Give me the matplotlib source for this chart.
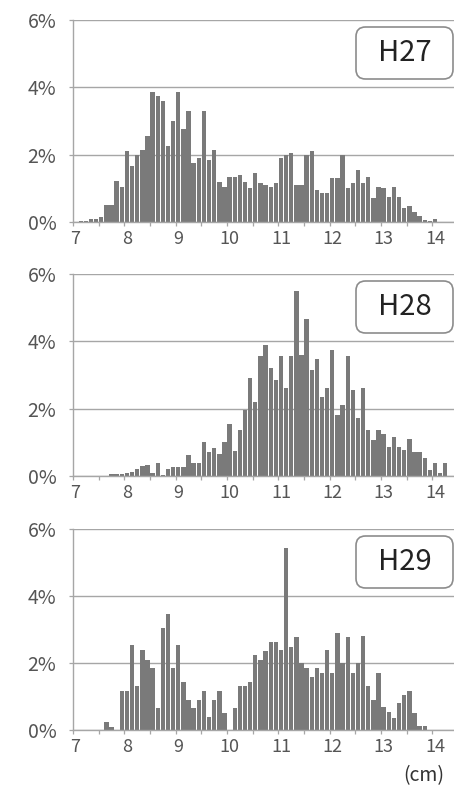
import matplotlib
matplotlib.use("Agg")
import matplotlib.pyplot as plt
import numpy as np
from matplotlib.patches import FancyBboxPatch

plt.rcParams["font.family"] = ["Noto Sans CJK JP", "DejaVu Sans"]

# 0.1 cm bins starting at 7.0 cm, share in %
start_cm = 7.0
bin_cm = 0.1
ticks_cm = [7, 8, 9, 10, 11, 12, 13, 14]
year_labels = ["H27", "H28", "H29"]

h27 = [0, 0.02, 0.02, 0.08, 0.08, 0.15, 0.5, 0.5, 1.22, 1.05,
       2.1, 1.65, 2.0, 2.15, 2.55, 3.85, 3.75, 3.6, 2.25, 3.0,
       3.85, 2.75, 3.3, 1.75, 1.9, 3.3, 1.85, 2.15, 1.2, 1.05,
       1.35, 1.35, 1.4, 1.2, 1.0, 1.45, 1.15, 1.1, 1.05, 1.15,
       1.9, 2.0, 2.05, 1.1, 1.1, 2.0, 2.1, 0.95, 0.85, 0.85,
       1.3, 1.3, 2.0, 1.0, 1.15, 1.55, 1.15, 1.35, 0.7, 1.05,
       1.0, 0.75, 1.05, 0.75, 0.43, 0.48, 0.3, 0.17, 0.05, 0.03,
       0.08]

h28 = [0, 0, 0, 0, 0, 0, 0, 0.05, 0.06, 0.06,
       0.08, 0.13, 0.22, 0.3, 0.33, 0.1, 0.4, 0.04, 0.2, 0.26,
       0.26, 0.26, 0.62, 0.4, 0.4, 1.0, 0.72, 0.82, 0.65, 1.0,
       1.55, 0.75, 1.37, 1.97, 2.9, 2.2, 3.55, 3.9, 3.2, 2.85,
       3.55, 2.6, 3.55, 5.5, 3.6, 4.65, 3.15, 3.47, 2.35, 2.6,
       3.73, 1.8, 2.1, 3.55, 2.55, 1.72, 2.6, 1.37, 1.07, 1.37,
       1.25, 0.87, 1.17, 0.85, 0.77, 1.1, 0.72, 0.72, 0.53, 0.18,
       0.4, 0.1, 0.4]

h29 = [0, 0, 0, 0, 0, 0, 0.25, 0.1, 0, 1.17,
       1.17, 2.53, 1.3, 2.38, 2.1, 1.84, 0.65, 3.05, 3.45, 1.84,
       2.53, 1.44, 0.9, 0.65, 0.9, 1.17, 0.38, 0.91, 1.17, 0.52,
       0, 0.65, 1.3, 1.3, 1.44, 2.23, 2.1, 2.36, 2.63, 2.63,
       2.38, 5.43, 2.48, 2.78, 1.99, 1.84, 1.59, 1.86, 1.71, 2.38,
       1.71, 2.9, 1.99, 2.78, 1.71, 1.99, 2.8, 1.31, 0.9, 1.71,
       0.68, 0.55, 0.35, 0.8, 1.04, 1.17, 0.52, 0.12, 0.12]

series = [h27, h28, h29]

W, H = 454, 787
fig = plt.figure(figsize=(W / 100, H / 100), dpi=100)

# panel pixel extents (top of 6% line, 0% line)
panels_px = [(20, 222), (274, 476), (529, 730)]
left_px, right_px = 73, 454

grid_c = "#a6a6a6"
bar_c = "#7a7a7a"
txt_c = "#555555"

for (top, bot), vals, label in zip(panels_px, series, year_labels):
    ax = fig.add_axes([left_px / W, 1 - bot / H, (right_px - left_px) / W, (bot - top) / H])
    x = start_cm + bin_cm * np.arange(len(vals))
    ax.bar(x, vals, width=0.085, color=bar_c, linewidth=0, zorder=2)

    ax.set_xlim(start_cm - bin_cm / 2, 14.37)
    ax.set_ylim(0, 6)
    ax.set_yticks([0, 2, 4, 6])
    ax.set_yticklabels(["0%", "2%", "4%", "6%"])
    ax.set_xticks(ticks_cm)
    ax.set_xticklabels([str(t) for t in ticks_cm])
    ax.set_xticks(np.arange(6.95, 14.4, 0.5), minor=True)
    ax.tick_params(axis="x", which="major", length=0, pad=6, labelsize=13, labelcolor=txt_c)
    ax.tick_params(axis="x", which="minor", length=3, width=0.9, color=grid_c, direction="out")
    ax.tick_params(axis="y", length=3, width=0.9, color=grid_c, pad=9, labelsize=14, labelcolor=txt_c)

    ax.grid(axis="y", color=grid_c, linewidth=1.0, zorder=0)
    ax.set_axisbelow(True)
    for s in ["top", "right"]:
        ax.spines[s].set_visible(False)
    ax.spines["left"].set_color(grid_c)
    ax.spines["bottom"].set_color(grid_c)
    ax.spines["left"].set_linewidth(1.0)
    ax.spines["bottom"].set_linewidth(1.0)

    # rounded label box in axes coords
    ax_w = right_px - left_px
    ax_h = bot - top
    bx0 = (356 - left_px) / ax_w
    bx1 = (453 - left_px) / ax_w
    by1 = 1 - 7 / ax_h
    by0 = 1 - 59 / ax_h
    box = FancyBboxPatch((bx0, by0), bx1 - bx0, by1 - by0,
                         boxstyle="round,pad=0,rounding_size=0.025",
                         mutation_aspect=ax_w / ax_h,
                         transform=ax.transAxes, facecolor="white",
                         edgecolor="#8c8c8c", linewidth=1.2, zorder=5, clip_on=False)
    ax.add_patch(box)
    ax.text((bx0 + bx1) / 2, (by0 + by1) / 2, label, transform=ax.transAxes,
            ha="center", va="center", fontsize=21, color="#222222", zorder=6)

fig.text(424 / W, 1 - 776 / H, "(cm)", ha="center", va="center", fontsize=14, color="#333333")

fig.savefig("out.png", dpi=100, facecolor="white")
